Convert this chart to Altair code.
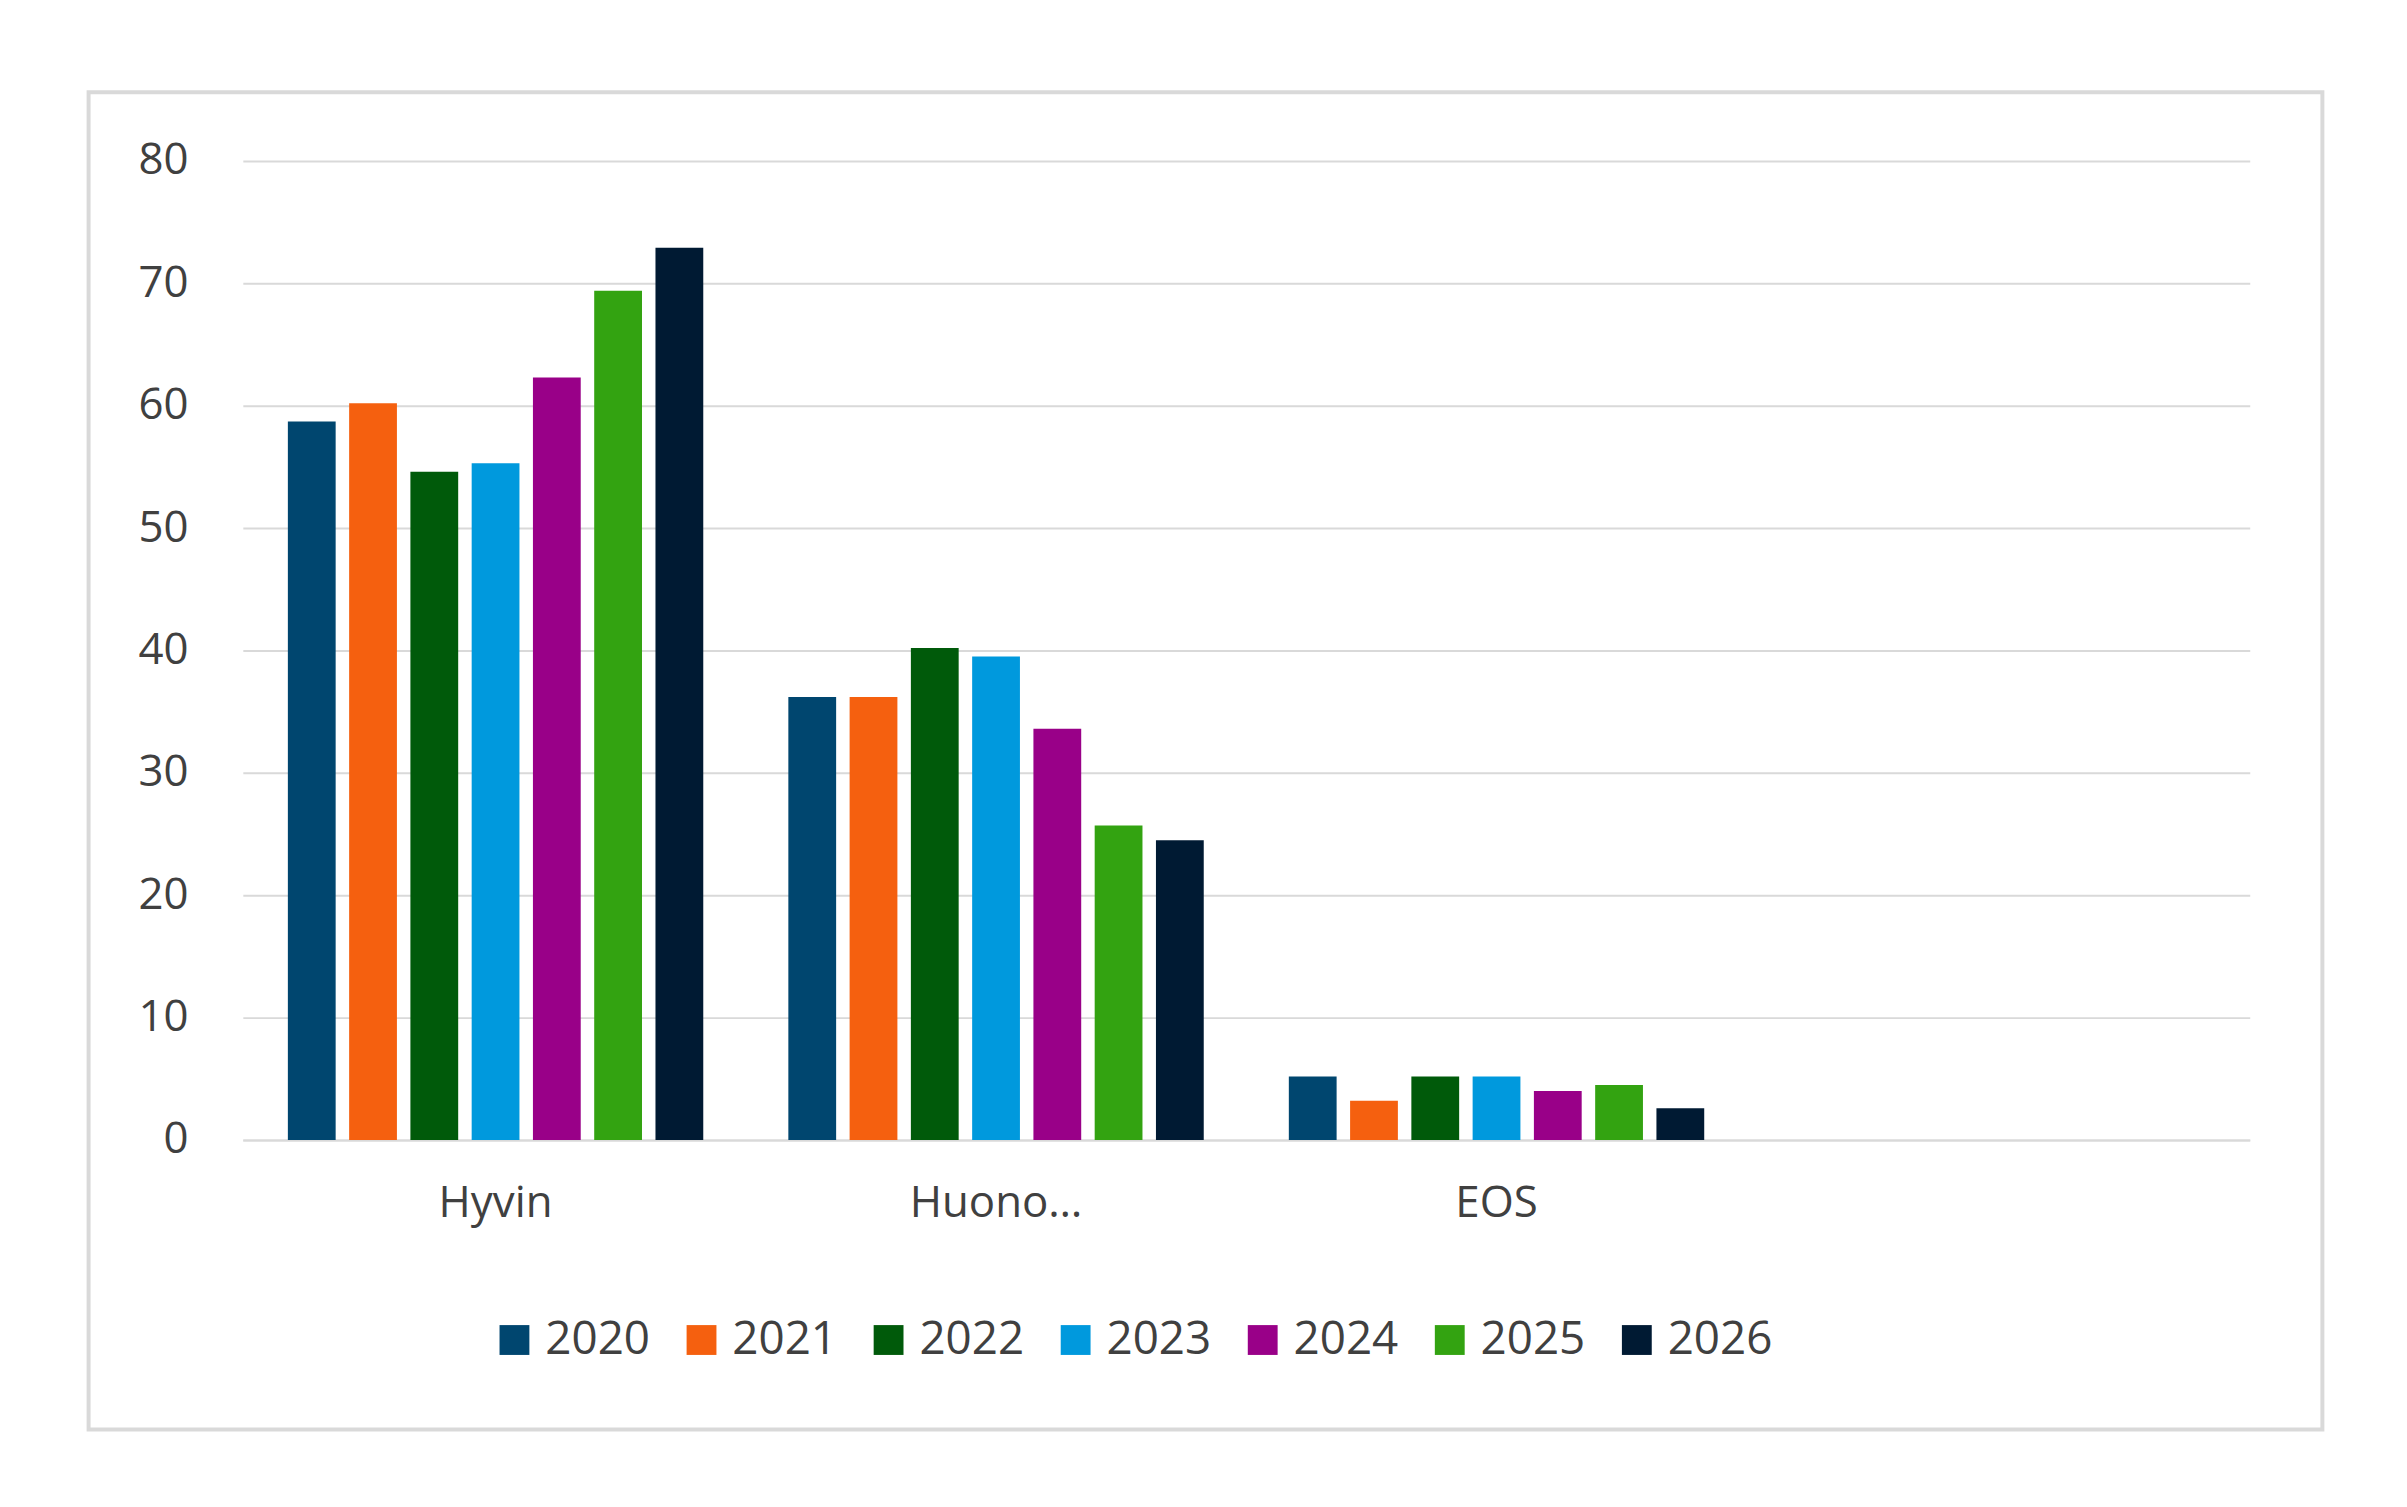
import altair as alt
import pandas as pd

categories = ["Hyvin", "Huonosti", "EOS"]
years = ["2020", "2021", "2022", "2023", "2024", "2025", "2026"]
colors = ["#00466F", "#F5600F", "#005A0A", "#0099DD", "#990088", "#33A311", "#001A33"]
hyvin = [58.7, 60.2, 54.6, 55.3, 62.3, 69.4, 72.9]
huonosti = [36.2, 36.2, 40.2, 39.5, 33.6, 25.7, 24.5]
eos = [5.2, 3.2, 5.2, 5.2, 4.0, 4.5, 2.6]

rows = []
for cat, vals in zip(categories, [hyvin, huonosti, eos]):
    for y, v in zip(years, vals):
        rows.append({"cat": cat, "year": y, "value": v})
df = pd.DataFrame(rows)

domain_x = categories + [" "]

bars = alt.Chart(df).mark_bar().encode(
    x=alt.X("cat:N", sort=domain_x,
            scale=alt.Scale(domain=domain_x, paddingInner=0.17, paddingOuter=0.09),
            axis=alt.Axis(title=None, labelAngle=0, labelFontSize=44, labelPadding=42,
                          ticks=False, domainColor="#d9d9d9", domainWidth=2, labelColor="#404040")),
    xOffset=alt.XOffset("year:N", scale=alt.Scale(paddingInner=0.22)),
    y=alt.Y("value:Q", scale=alt.Scale(domain=[0, 80]),
            axis=alt.Axis(title=None, values=list(range(0, 81, 10)), labelFontSize=44,
                          labelPadding=55, ticks=False, domain=False, gridColor="#d9d9d9",
                          gridWidth=2, labelColor="#404040")),
    color=alt.Color("year:N", scale=alt.Scale(domain=years, range=colors),
                    legend=alt.Legend(title=None, orient="none", direction="horizontal",
                                      legendX=250, legendY=1162,
                                      symbolType="square", symbolSize=900, labelFontSize=46,
                                      labelColor="#404040", columnPadding=28, labelOffset=8,
                                      symbolStrokeWidth=0)),
)

frame = alt.Chart(pd.DataFrame({"a": [0]})).mark_rect(
    fill=None, stroke="#d9d9d9", strokeWidth=4, clip=False
).encode(x=alt.value(-155), x2=alt.value(2090), y=alt.value(-69), y2=alt.value(1275))

chart = alt.layer(frame, bars).properties(
    width=2017, height=984,
    autosize=alt.AutoSizeParams(type="none"),
    padding={"left": 236, "top": 150, "right": 150, "bottom": 340},
).configure(font="Open Sans", background="white").configure_view(stroke=None)

chart.save("out.html", embed_options={"renderer": "svg", "actions": False})
